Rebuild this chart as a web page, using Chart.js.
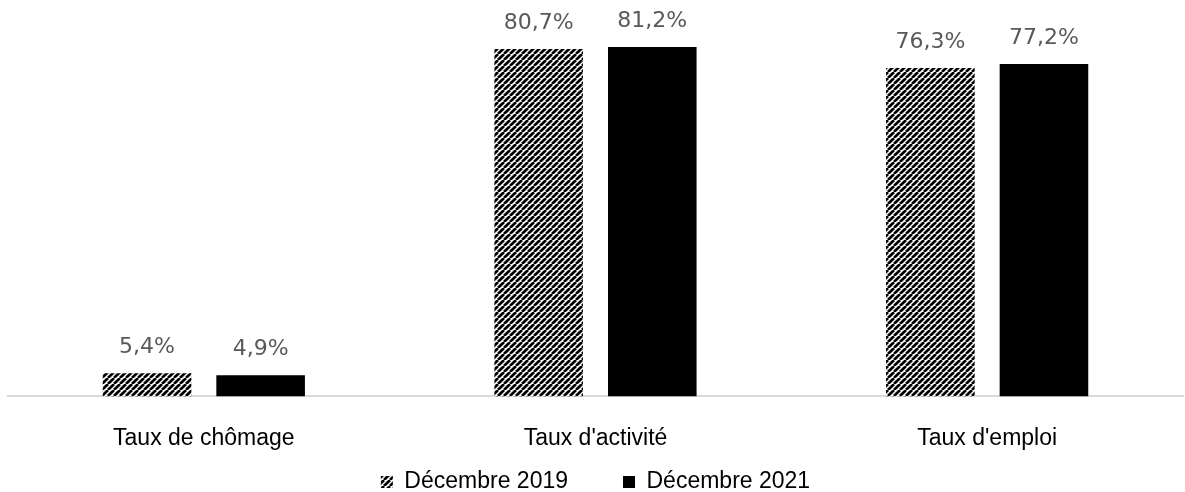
<!DOCTYPE html>
<html>
<head>
<meta charset="utf-8">
<script src="https://cdn.jsdelivr.net/npm/chart.js@4.4.0/dist/chart.umd.min.js"></script>
<style>
  html, body { margin: 0; padding: 0; background: #fff; }
  #wrap { width: 1185px; height: 492px; }
</style>
</head>
<body>
<div id="wrap"><canvas id="graphique"></canvas></div>
<script>
const categories = ['Taux de chômage', "Taux d'activité", "Taux d'emploi"];
const decembre2019 = [5.4, 80.7, 76.3];
const decembre2021 = [4.9, 81.2, 77.2];
const seriesNames = ['Décembre 2019', 'Décembre 2021'];

// motif hachuré pour la série 2019
function hachures() {
    const c = document.createElement('canvas');
    c.width = 6; c.height = 6;
    const g = c.getContext('2d');
    g.fillStyle = '#fff';
    g.fillRect(0, 0, 6, 6);
    g.strokeStyle = '#000';
    g.lineWidth = 2.7;
    g.beginPath();
    for (let k = -6; k <= 12; k += 6) {
        g.moveTo(k, 6);
        g.lineTo(k + 6, 0);
    }
    g.stroke();
    return g.createPattern(c, 'repeat');
}

// étiquettes de valeurs au-dessus des barres
const etiquettes = {
    id: 'etiquettes',
    afterDatasetsDraw(chart) {
        const ctx = chart.ctx;
        ctx.save();
        ctx.font = '22px "DejaVu Sans"';
        ctx.fillStyle = '#595959';
        ctx.textAlign = 'center';
        ctx.textBaseline = 'middle';
        chart.data.datasets.forEach((ds, i) => {
            chart.getDatasetMeta(i).data.forEach((bar, j) => {
                const txt = ds.data[j].toFixed(1).replace('.', ',') + '%';
                ctx.fillText(txt, bar.x, bar.y - 26);
            });
        });
        ctx.restore();
    }
};

// légende : espacement horizontal large mais collée en bas
const HAUTEUR_LEGENDE = 12;
const legendeBas = {
    id: 'legendeBas',
    beforeLayout(chart) {
        const lg = chart.legend;
        if (lg && !lg._fitPatch) {
            const fit = lg.fit;
            lg.fit = function () {
                fit.call(this);
                this.height = HAUTEUR_LEGENDE;
            };
            lg._fitPatch = true;
        }
    },
    afterLayout(chart) {
        const lg = chart.legend;
        const pad = lg.options.labels.padding;
        lg.top = 482 - pad - 11.5;
        lg.bottom = chart.height;
    }
};

const ctx = document.getElementById('graphique').getContext('2d');
new Chart(ctx, {
    type: 'bar',
    data: {
        labels: categories,
        datasets: [{
            label: seriesNames[0],
            data: decembre2019,
            backgroundColor: hachures(),
            barPercentage: 0.78,
            categoryPercentage: 0.58
        }, {
            label: seriesNames[1],
            data: decembre2021,
            backgroundColor: '#000000',
            barPercentage: 0.78,
            categoryPercentage: 0.58
        }]
    },
    options: {
        responsive: true,
        maintainAspectRatio: false,
        animation: false,
        layout: {
            padding: { left: 8, right: 2, top: 9, bottom: 0 }
        },
        plugins: {
            legend: {
                position: 'bottom',
                labels: {
                    boxWidth: 12,
                    boxHeight: 12,
                    padding: 55,
                    color: '#000',
                    font: { family: '"Liberation Sans", Arial', size: 23 }
                }
            },
            tooltip: { enabled: false }
        },
        scales: {
            x: {
                grid: { display: false, drawTicks: false },
                border: { display: true, color: '#d9d9d9', width: 2 },
                ticks: {
                    padding: 28,
                    color: '#000',
                    font: { family: '"Liberation Sans", Arial', size: 23 }
                }
            },
            y: {
                display: false,
                min: 0,
                max: 90
            }
        }
    },
    plugins: [etiquettes, legendeBas]
});
</script>
</body>
</html>
